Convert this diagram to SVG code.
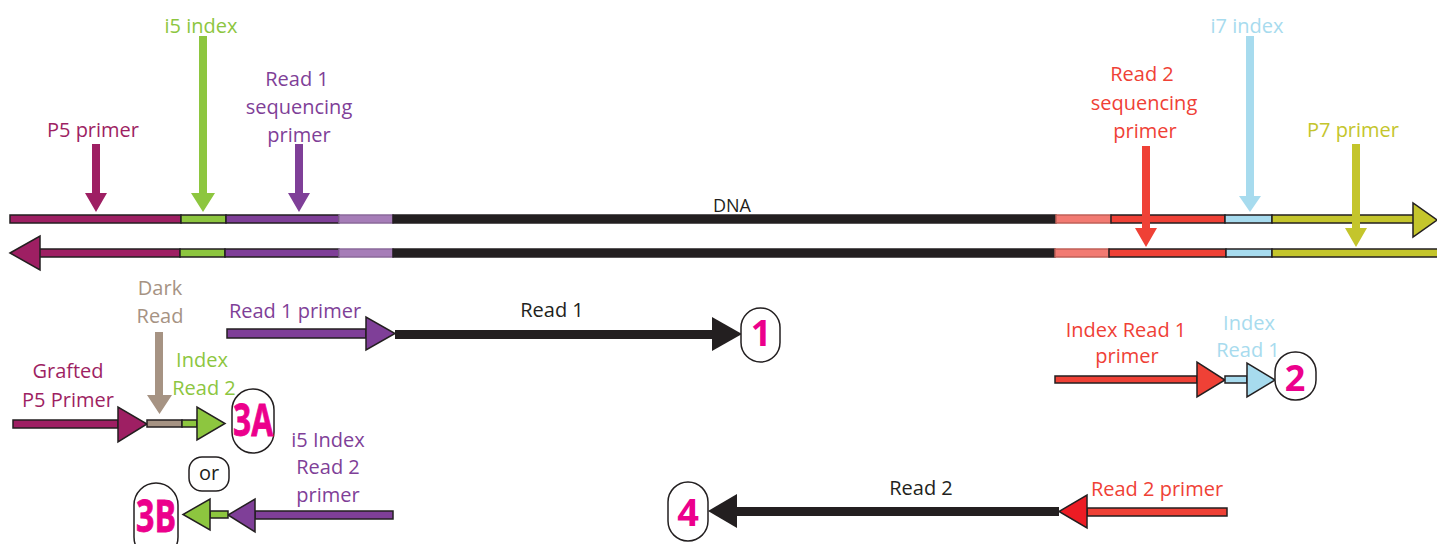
<svg xmlns="http://www.w3.org/2000/svg" width="1437" height="544" viewBox="0 0 1437 544">
<style>
text{font-family:"Open Sans","Liberation Sans",sans-serif;font-size:20px;text-anchor:middle}
.seg{stroke:#231F20;stroke-width:1.5}
.out{stroke:#231F20;stroke-width:1.5;stroke-linejoin:miter}
.badge{fill:#fff;stroke:#231F20;stroke-width:1.5}
.num{font-weight:bold;fill:#EC008C}
.wide{stroke:#EC008C;stroke-width:0.8}
.mag{fill:#9E1F63}.grn{fill:#8DC63F}.pur{fill:#7F3F98}.lpur{fill:#A67DB8}.blk{fill:#231F20}
.sal{fill:#F27A72}.red{fill:#EF4136}.lbl{fill:#A7DBEE}.olv{fill:#C4C52C}.tau{fill:#A69383}
</style>
<rect width="1437" height="544" fill="#fff"/>

<g id="top-strand">
<rect class="seg mag" x="10" y="215" width="171" height="8"/>
<rect class="seg grn" x="181" y="215" width="45" height="8"/>
<rect class="seg pur" x="226" y="215" width="113" height="8"/>
<rect class="seg lpur" x="339" y="215" width="54" height="8" style="stroke:#8a6a9a"/>
<rect class="seg blk" x="393" y="215" width="663" height="8"/>
<rect class="seg sal" x="1056" y="215" width="55" height="8" style="stroke:#c06058"/>
<rect class="seg red" x="1111" y="215" width="114" height="8"/>
<rect class="seg lbl" x="1225" y="215" width="47" height="8"/>
<rect class="seg olv" x="1272" y="215" width="142" height="8"/>
<polygon class="out olv" points="1413,203 1413,237 1437,220"/>
<text x="732" y="212" style="font-size:18px" fill="#231F20">DNA</text>
</g>

<g id="bottom-strand">
<rect class="seg mag" x="39" y="249" width="141" height="8"/>
<rect class="seg grn" x="180" y="249" width="45" height="8"/>
<rect class="seg pur" x="225" y="249" width="114" height="8"/>
<rect class="seg lpur" x="339" y="249" width="54" height="8" style="stroke:#8a6a9a"/>
<rect class="seg blk" x="393" y="249" width="662" height="8"/>
<rect class="seg sal" x="1055" y="249" width="54" height="8" style="stroke:#c06058"/>
<rect class="seg red" x="1109" y="249" width="117" height="8"/>
<rect class="seg lbl" x="1226" y="249" width="46" height="8"/>
<rect class="seg olv" x="1272" y="249" width="170" height="8"/>
<polygon class="out mag" points="10,253 40,236 40,270"/>
</g>

<g id="p5-primer">
<text class="mag" x="93" y="137">P5 primer</text>
<path class="mag" d="M92,144H100V193H107L96,212L85,193H92Z"/>
</g>
<g id="i5-index">
<text class="grn" x="201" y="33">i5 index</text>
<path class="grn" d="M199,36H207V193H215L203,212L191,193H199Z"/>
</g>
<g id="read1-seq-primer">
<text class="pur" x="297" y="86">Read 1</text>
<text class="pur" x="299" y="114">sequencing</text>
<text class="pur" x="299" y="142">primer</text>
<path class="pur" d="M295,144H303V193H310L299,212L288,193H295Z"/>
</g>
<g id="read2-seq-primer">
<text class="red" x="1142" y="81">Read 2</text>
<text class="red" x="1144" y="110">sequencing</text>
<text class="red" x="1145" y="138">primer</text>
<path class="red" d="M1142,146H1150V228H1157L1146,247L1135,228H1142Z"/>
</g>
<g id="i7-index">
<text class="lbl" x="1247" y="33">i7 index</text>
<path class="lbl" d="M1246,36H1254V196H1261L1250,212L1239,196H1246Z"/>
</g>
<g id="p7-primer">
<text class="olv" x="1353" y="137">P7 primer</text>
<path class="olv" d="M1352,144H1360V228H1367L1356,247L1345,228H1352Z"/>
</g>

<g id="read1">
<text class="pur" x="295" y="318">Read 1 primer</text>
<rect class="seg pur" x="227" y="329" width="139" height="9"/>
<polygon class="out pur" points="366,317 366,350 395,333.5"/>
<rect class="blk" x="395" y="330" width="320" height="9"/>
<polygon class="blk" points="712,317 712,351 742,334"/>
<text x="552" y="317" fill="#231F20">Read 1</text>
</g>
<g id="badge-1">
<rect class="badge" x="741" y="308" width="39" height="54" rx="19.5"/>
<text class="num" x="761" y="346" style="font-size:36px">1</text>
</g>

<g id="index-read1">
<text class="red" x="1126" y="337">Index Read 1</text>
<text class="red" x="1127" y="363">primer</text>
<rect class="seg red" x="1055" y="376" width="142" height="7"/>
<polygon class="out red" points="1197,362 1197,397 1225,380"/>
<rect class="seg lbl" x="1225" y="376" width="22" height="7"/>
<polygon class="out lbl" points="1247,363 1247,397 1275,380"/>
<text class="lbl" x="1249" y="330">Index</text>
<text class="lbl" x="1248" y="357">Read 1</text>
</g>
<g id="badge-2">
<rect class="badge" x="1275" y="352" width="41" height="48" rx="20"/>
<text class="num" x="1295" y="391" style="font-size:36px">2</text>
</g>

<g id="grafted-p5">
<text class="mag" x="68" y="378">Grafted</text>
<text class="mag" x="68" y="407">P5 Primer</text>
<rect class="seg mag" x="13" y="420" width="105" height="8"/>
<polygon class="out mag" points="118,407 118,442 147,424"/>
</g>
<g id="dark-read">
<text class="tau" x="160" y="295">Dark</text>
<text class="tau" x="160" y="323">Read</text>
<path class="tau" d="M155,332H163V395H172L159.5,414L147,395H155Z"/>
<rect class="seg tau" x="147" y="420" width="35" height="7"/>
</g>
<g id="index-read2">
<text class="grn" x="202" y="367">Index</text>
<text class="grn" x="204" y="395">Read 2</text>
<rect class="seg grn" x="182" y="420" width="15" height="7"/>
<polygon class="out grn" points="197,407 197,440 225,423.5"/>
</g>
<g id="badge-3a">
<rect class="badge" x="232" y="389" width="42" height="64" rx="21"/>
<text class="num wide" x="253" y="436" style="font-size:44px" textLength="40" lengthAdjust="spacingAndGlyphs">3A</text>
</g>
<g id="or">
<rect class="badge" x="189" y="457" width="40" height="34" rx="13"/>
<text x="209" y="480" fill="#231F20">or</text>
</g>
<g id="i5-index-read2-primer">
<text class="pur" x="328" y="447">i5 Index</text>
<text class="pur" x="328" y="474">Read 2</text>
<text class="pur" x="328" y="502">primer</text>
<rect class="seg pur" x="255" y="511" width="138" height="8"/>
<polygon class="out pur" points="255,499 255,532 228,515"/>
<rect class="seg grn" x="210" y="511" width="18" height="7"/>
<polygon class="out grn" points="210,499 210,530 183,514.5"/>
</g>
<g id="badge-3b">
<rect class="badge" x="134" y="483" width="44" height="76" rx="22"/>
<text class="num wide" x="156" y="532" style="font-size:44px" textLength="40" lengthAdjust="spacingAndGlyphs">3B</text>
</g>

<g id="read2">
<text class="red" x="1157" y="496">Read 2 primer</text>
<rect class="seg red" x="1087" y="508" width="140" height="8"/>
<polygon class="out" fill="#ED1C24" points="1087,495 1087,528 1059,511.5"/>
<rect class="blk" x="737" y="507" width="322" height="9"/>
<polygon class="blk" points="737,494 737,528 708,511"/>
<text x="921" y="495" fill="#231F20">Read 2</text>
</g>
<g id="badge-4">
<rect class="badge" x="668" y="482" width="40" height="59" rx="20"/>
<text class="num" x="688" y="526" style="font-size:38px">4</text>
</g>
</svg>
